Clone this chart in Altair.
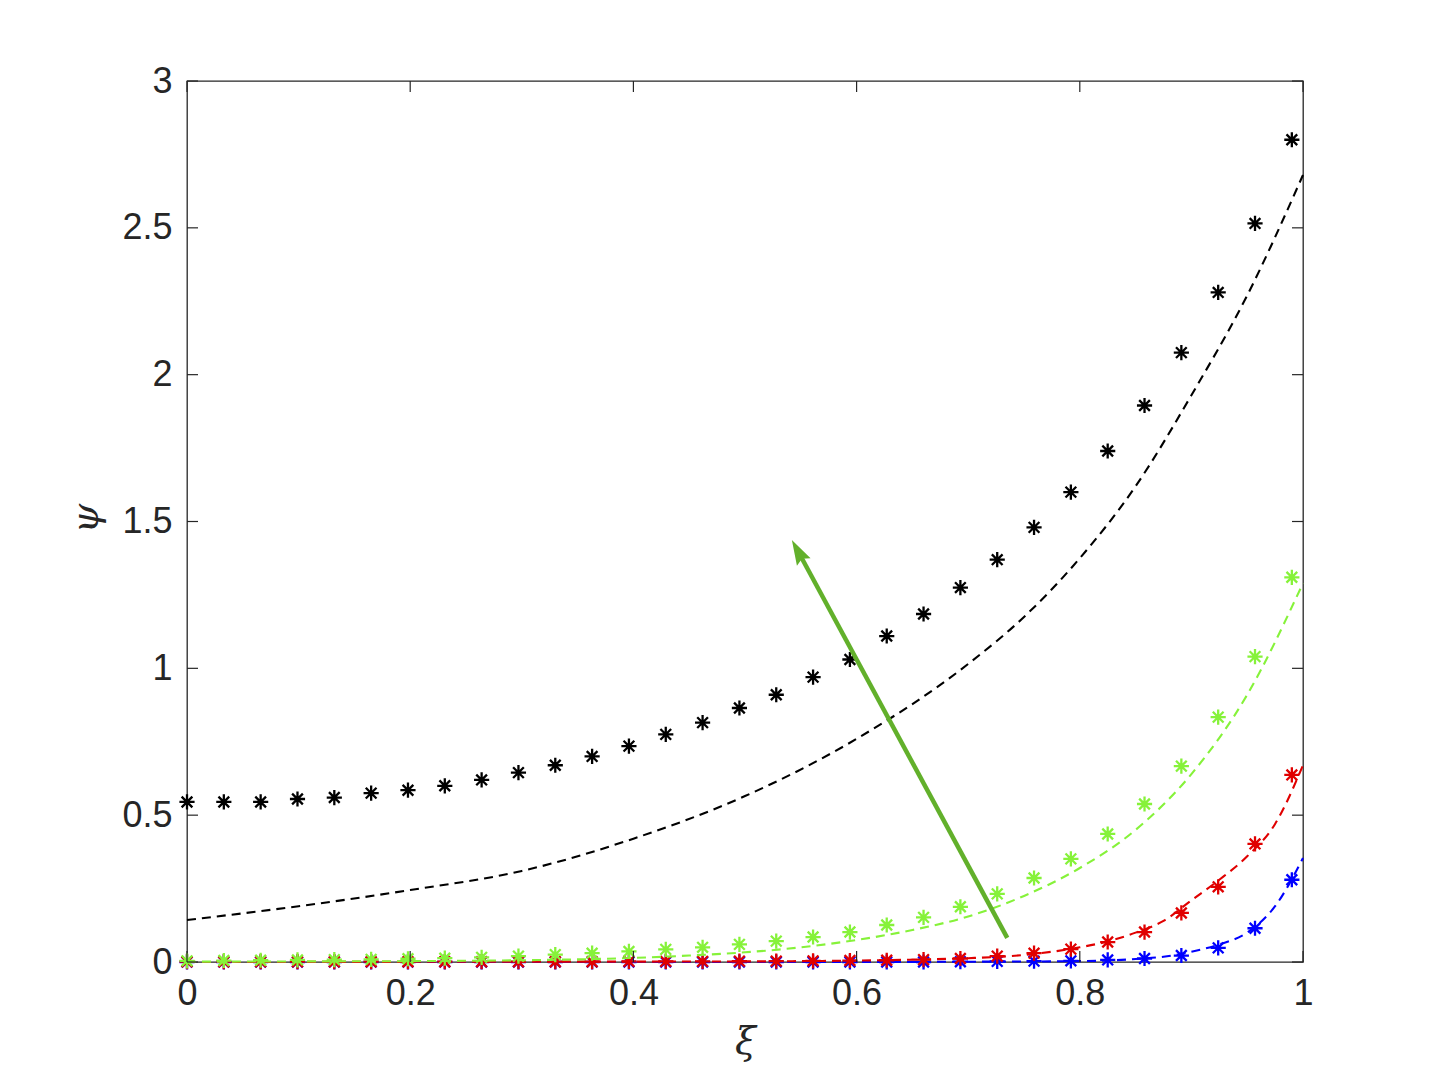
import altair as alt
import pandas as pd

# ---- data ----
xi_pts = [round(i * 0.033, 4) for i in range(31)]

black_pts = [0.545, 0.545, 0.545, 0.555, 0.56, 0.575, 0.585, 0.60, 0.62, 0.645,
             0.67, 0.70, 0.735, 0.775, 0.815, 0.865, 0.91, 0.97, 1.03, 1.11,
             1.185, 1.275, 1.37, 1.48, 1.60, 1.74, 1.895, 2.075, 2.28, 2.515, 2.80]
green_pts = [0.004, 0.005, 0.006, 0.007, 0.008, 0.009, 0.011, 0.013, 0.016, 0.020,
             0.025, 0.030, 0.036, 0.043, 0.050, 0.060, 0.071, 0.085, 0.102, 0.126,
             0.152, 0.188, 0.232, 0.286, 0.351, 0.436, 0.538, 0.667, 0.834, 1.04, 1.31]
red_pts = [0.001, 0.001, 0.001, 0.001, 0.001, 0.001, 0.001, 0.001, 0.001, 0.001,
           0.001, 0.001, 0.002, 0.002, 0.002, 0.003, 0.003, 0.004, 0.005, 0.006,
           0.008, 0.012, 0.020, 0.030, 0.044, 0.068, 0.102, 0.167, 0.256, 0.402, 0.637]
blue_pts = [0.0, 0.0, 0.0, 0.0, 0.0, 0.0, 0.0, 0.0, 0.0, 0.0,
            0.0, 0.0, 0.0, 0.0, 0.0, 0.0, 0.0, 0.0, 0.0, 0.0,
            0.0, 0.001, 0.002, 0.003, 0.004, 0.007, 0.012, 0.022, 0.048, 0.115, 0.28]

black_line_x = [0, 0.1, 0.2, 0.3, 0.4, 0.5, 0.6, 0.7, 0.75, 0.8, 0.85, 0.9, 0.95, 1.0]
black_line_y = [0.143, 0.19, 0.245, 0.31, 0.42, 0.565, 0.76, 1.015, 1.175, 1.375, 1.62, 1.93, 2.27, 2.68]

green_line_x = [0, 0.1, 0.2, 0.3, 0.35, 0.4, 0.45, 0.5, 0.55, 0.6, 0.65, 0.7, 0.75, 0.8, 0.85, 0.9, 0.95, 1.0]
green_line_y = [0.001, 0.002, 0.003, 0.006, 0.009, 0.014, 0.022, 0.033, 0.05, 0.075, 0.109, 0.155, 0.225, 0.32, 0.45, 0.64, 0.91, 1.29]

red_line_x = [0, 0.3, 0.5, 0.6, 0.65, 0.7, 0.75, 0.8, 0.825, 0.85, 0.875, 0.9, 0.925, 0.95, 0.975, 1.0]
red_line_y = [0.0, 0.001, 0.002, 0.005, 0.008, 0.013, 0.024, 0.05, 0.07, 0.1, 0.14, 0.21, 0.28, 0.36, 0.47, 0.67]

blue_line_x = [0, 0.5, 0.7, 0.8, 0.85, 0.875, 0.9, 0.925, 0.95, 0.975, 1.0]
blue_line_y = [0.0, 0.0, 0.001, 0.003, 0.01, 0.018, 0.035, 0.06, 0.1, 0.19, 0.354]

# arrow annotation (data coordinates): tail, shaft end, tip
arrow_x = [0.735, 0.5485]
arrow_y = [0.082, 1.392]
arrow_tip_x = [0.542]
arrow_tip_y = [1.437]

x_ticks = [0, 0.2, 0.4, 0.6, 0.8, 1.0]
y_ticks = [0, 0.5, 1.0, 1.5, 2.0, 2.5, 3.0]

W, H = 1116, 881
AX = "#262626"
STAR = "M-1,0L1,0M0,-1L0,1M-0.7071,-0.7071L0.7071,0.7071M-0.7071,0.7071L0.7071,-0.7071"

xs = alt.Scale(domain=[0, 1], nice=False, zero=False)
ys = alt.Scale(domain=[0, 3], nice=False, zero=False)

x_axis = alt.Axis(values=x_ticks, grid=False, ticks=False, domain=False,
                  labelFontSize=36, labelColor=AX, labelFont="Liberation Sans",
                  labelPadding=14, labelExpr="datum.value == 1 ? '1' : datum.value == 0 ? '0' : format(datum.value, '.1f')",
                  title="ξ", titleFontSize=38, titleFont="DejaVu Serif", titleFontStyle="italic",
                  titleFontWeight="normal", titleColor=AX, titleX=558, titleY=80,
                  titleAlign="center", titleBaseline="middle", labelFlush=False)
y_axis = alt.Axis(values=y_ticks, grid=False, ticks=False, domain=False,
                  labelFontSize=36, labelColor=AX, labelFont="Liberation Sans",
                  labelPadding=15, labelExpr="format(datum.value, '~g')",
                  title="ψ", titleFontSize=38, titleFont="DejaVu Serif", titleFontStyle="italic",
                  titleFontWeight="normal", titleColor=AX, titleX=-101, titleY=437,
                  titleAlign="center", titleBaseline="middle", titleAngle=270, labelFlush=False)


def line_layer(xv, yv, color):
    df = pd.DataFrame({"x": xv, "y": yv})
    return alt.Chart(df).mark_line(color=color, strokeWidth=2.1, strokeDash=[9, 6],
                                   interpolate="monotone").encode(
        x=alt.X("x:Q", scale=xs, axis=x_axis), y=alt.Y("y:Q", scale=ys, axis=y_axis))


def star_layer(yv, color):
    df = pd.DataFrame({"x": xi_pts, "y": yv})
    return alt.Chart(df).mark_point(shape=STAR, size=230, filled=False, color=color,
                                    strokeWidth=2.3, opacity=1).encode(
        x=alt.X("x:Q", scale=xs, axis=x_axis), y=alt.Y("y:Q", scale=ys, axis=y_axis))


layers = []
for (lx, ly, pts, col) in [
    (blue_line_x, blue_line_y, blue_pts, "#0000FF"),
    (red_line_x, red_line_y, red_pts, "#E00000"),
    (green_line_x, green_line_y, green_pts, "#86F23A"),
    (black_line_x, black_line_y, black_pts, "#000000"),
]:
    layers.append(line_layer(lx, ly, col))
    layers.append(star_layer(pts, col))

# arrow
arrow_col = "#62B02B"
shaft = alt.Chart(pd.DataFrame({"x": arrow_x, "y": arrow_y})).mark_line(
    color=arrow_col, strokeWidth=4.5).encode(x=alt.X("x:Q", scale=xs), y=alt.Y("y:Q", scale=ys))
head = alt.Chart(pd.DataFrame({"x": arrow_tip_x, "y": arrow_tip_y})).mark_point(
    shape="M0,0L-0.62,2L0,1.7L0.62,2Z", size=625, filled=True, color=arrow_col,
    opacity=1, angle=331.6, strokeWidth=0).encode(x=alt.X("x:Q", scale=xs), y=alt.Y("y:Q", scale=ys))
layers += [shaft, head]

# inward ticks on all four sides, plus the box outline
TL = 11
xt = pd.DataFrame({"t": x_ticks})
yt = pd.DataFrame({"t": y_ticks})
tick_style = dict(color=AX, strokeWidth=1.2)
layers += [
    alt.Chart(xt).mark_rule(**tick_style).encode(x=alt.X("t:Q", scale=xs), y=alt.value(H), y2=alt.value(H - TL)),
    alt.Chart(xt).mark_rule(**tick_style).encode(x=alt.X("t:Q", scale=xs), y=alt.value(0), y2=alt.value(TL)),
    alt.Chart(yt).mark_rule(**tick_style).encode(y=alt.Y("t:Q", scale=ys), x=alt.value(0), x2=alt.value(TL)),
    alt.Chart(yt).mark_rule(**tick_style).encode(y=alt.Y("t:Q", scale=ys), x=alt.value(W), x2=alt.value(W - TL)),
]

chart = alt.layer(*layers).properties(
    width=W, height=H,
    autosize=alt.AutoSizeParams(type="none"),
    padding={"left": 179, "top": 73, "right": 120, "bottom": 110},
).configure(background="white", view=alt.ViewConfig(stroke=AX, strokeWidth=1.3))

chart.save("out.html", embed_options={"renderer": "svg", "actions": False})
